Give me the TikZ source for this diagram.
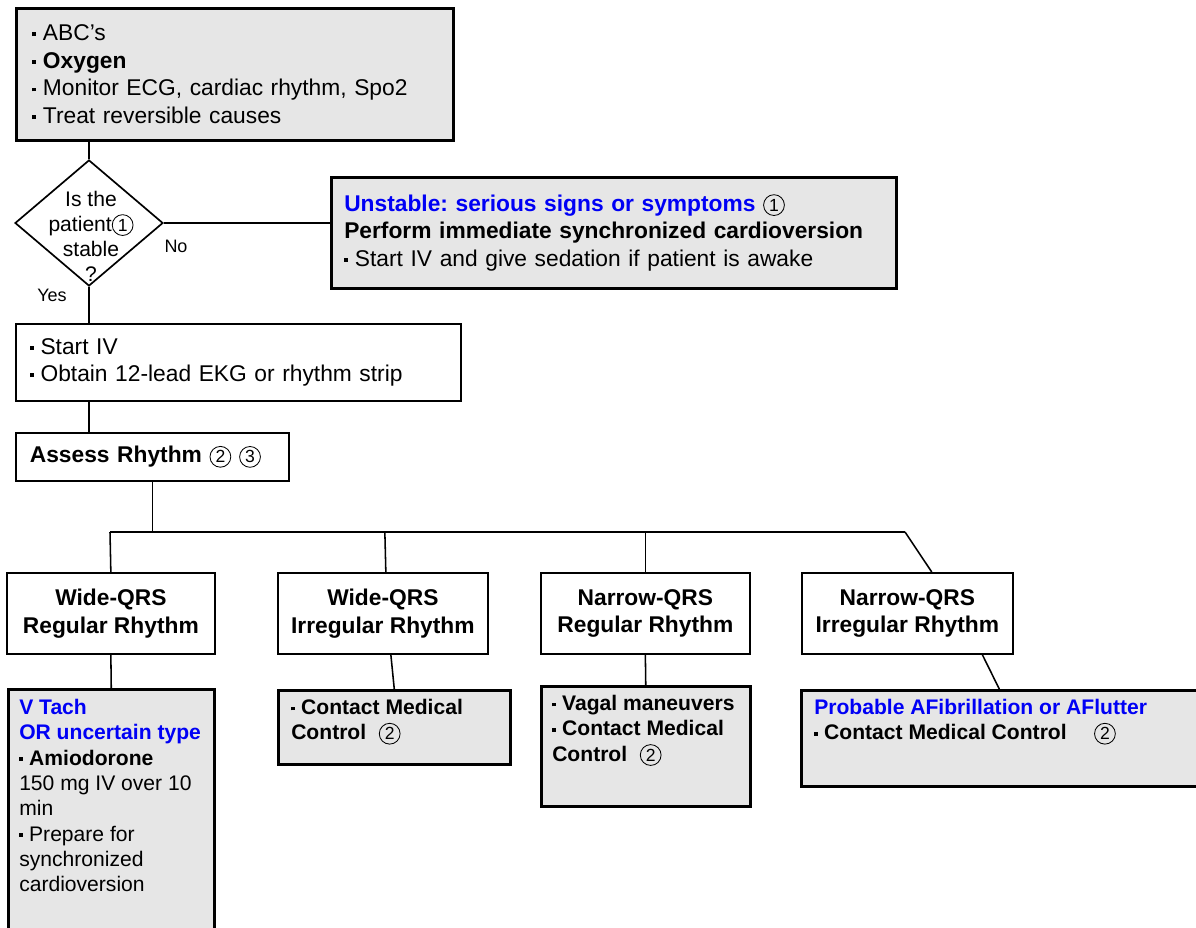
\documentclass[tikz,border=0pt]{standalone}
\usepackage{fontspec}
\setmainfont{Liberation Sans}
\usetikzlibrary{shapes.geometric}
\definecolor{boxgray}{RGB}{230,230,230}
\definecolor{ttlblue}{RGB}{0,0,245}
\frenchspacing
\newcommand\bul{\rule[0.2em]{0.17em}{0.17em}\hspace{0.3em}}
\newcommand\cnum[1]{\tikz[baseline=(cn.base)]\node[draw,circle,line width=0.6pt,inner sep=0pt,
  minimum size=5.2mm,font=\normalfont\fontsize{12.5}{12.5}\selectfont,text=black] (cn) {#1};}
\newcommand\bigfont{\fontsize{16.2}{19.7}\selectfont}
\newcommand\midfont{\fontsize{15}{18}\selectfont}
\newcommand\smfont{\fontsize{15}{17.8}\selectfont}
\begin{document}
\begin{tikzpicture}[x=0.25mm,y=-0.25mm,line width=1.1pt,
  wbox/.style={draw,line width=1.2pt,fill=white,anchor=north west,align=left,inner ysep=0pt,font=\bigfont},
  gbox/.style={wbox,fill=boxgray,line width=1.8pt},
  rbox/.style={wbox,align=center,inner sep=0pt,font=\bfseries\bigfont},
  lbl/.style={font=\fontsize{12.8}{15}\selectfont,inner sep=0pt}]
\useasboundingbox (0,0) rectangle (1196,928);

% initial care
\node[gbox,text width=101.25mm,inner xsep=4mm,minimum height=33mm] (care) at (15,7)
  {\bul ABC's\\ \bul\textbf{Oxygen}\\ \bul Monitor ECG, cardiac rhythm, Spo2\\ \bul Treat reversible causes};

% stable?
\node[diamond,draw,line width=1.2pt,fill=white,minimum width=37mm,minimum height=31.5mm,inner sep=0pt] (stab) at (89,223) {};
\node[font=\smfont,inner sep=0pt,align=center] (stabtxt) at (91,236) {Is the\\patient\cnum{1}\\stable\\?};
\draw (care.south -| stab.north) -- (stab.north);
\node[lbl] (no) at (176,246) {No};
\node[lbl] (yes) at (52,295) {Yes};

% unstable branch
\node[gbox,text width=134.75mm,inner xsep=3.25mm,minimum height=27.75mm] (unst) at (330,176)
  {{\bfseries\color{ttlblue}Unstable: serious signs or symptoms} \cnum{1}\\
   \textbf{Perform immediate synchronized cardioversion}\\
   \bul Start IV and give sedation if patient is awake};
\draw (stab.east) -- (stab.east -| unst.west);

% stable branch
\node[wbox,text width=104.25mm,inner xsep=3.5mm,minimum height=19.25mm] (ivbox) at (15,323)
  {\bul Start IV\\ \bul Obtain 12-lead EKG or rhythm strip};
\draw (stab.south) -- (stab.south |- ivbox.north);
\node[wbox,font=\bfseries\bigfont,text width=61.25mm,inner xsep=3.5mm,minimum height=12mm] (assess) at (15,432)
  {Assess Rhythm \cnum{2}\hspace{0.35em}\cnum{3}};
\draw (ivbox.south -| stab.south) -- (assess.north -| stab.south);

% rhythm types
\coordinate (busl) at (110,532);
\coordinate (busr) at (905,532);
\draw (assess.south) -- (assess.south |- busl);
\draw (busl) -- (busr);
\node[rbox,minimum width=52mm,minimum height=20.25mm] (wreg) at (6,572) {Wide-QRS\\Regular Rhythm};
\node[rbox,minimum width=52.5mm,minimum height=20.25mm] (wirr) at (277,572) {Wide-QRS\\Irregular Rhythm};
\node[rbox,minimum width=52.25mm,minimum height=20.25mm] (nreg) at (540,572) {Narrow-QRS\\Regular Rhythm};
\node[rbox,minimum width=52.75mm,minimum height=20.25mm] (nirr) at (801,572) {Narrow-QRS\\Irregular Rhythm};
\draw (busl) -- (wreg.north);
\draw ([xshift=0.5mm]wirr.north |- busl) -- ([xshift=0.75mm]wirr.north);
\draw (nreg.north |- busl) -- (nreg.north);
\draw (busr) -- ([xshift=6.1mm]nirr.north);

% treatments
\node[gbox,inner xsep=2.75mm,inner ysep=2.5mm,font=\midfont] (vtach) at (7,688)
  {\parbox[t][60mm][t]{46mm}{\raggedright
   {\bfseries\color{ttlblue}V Tach\\OR uncertain type}\\
   \bul\textbf{Amiodorone}\\150 mg IV over 10\\min\\
   \bul Prepare for\\synchronized\\cardioversion}};
\node[gbox,inner xsep=3.25mm,inner ysep=2.25mm,font=\bfseries\midfont] (cmc) at (277,689)
  {\parbox[t][14mm][t]{51.5mm}{\raggedright
   \bul Contact Medical\\Control\hspace{0.6em}\cnum{2}}};
\node[gbox,inner xsep=2.75mm,inner ysep=2.25mm,font=\bfseries\midfont] (vagal) at (540,685)
  {\parbox[t][25.5mm][t]{46.75mm}{\raggedright
   \bul Vagal maneuvers\\ \bul Contact Medical\\Control\hspace{0.6em}\cnum{2}}};
\node[gbox,inner xsep=3.25mm,inner ysep=2.25mm,font=\bfseries\midfont] (afib) at (800,689)
  {\parbox[t][19.5mm][t]{92.5mm}{\raggedright
   {\color{ttlblue}Probable AFibrillation or AFlutter}\\
   \bul Contact Medical Control\hspace{1.3em}\cnum{2}}};
\draw (wreg.south) -- (vtach.north);
\draw ([xshift=2mm]wirr.south) -- (cmc.north);
\draw (nreg.south) -- (vagal.north);
\draw ([xshift=18.75mm]nirr.south) -- (afib.north);
\end{tikzpicture}
\end{document}
